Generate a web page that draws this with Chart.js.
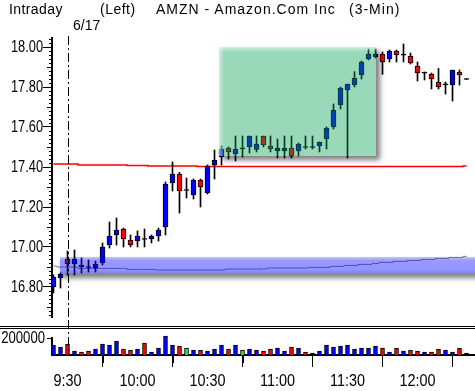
<!DOCTYPE html>
<html>
<head>
<meta charset="utf-8">
<script src="https://cdn.jsdelivr.net/npm/chart.js@4.4.0/dist/chart.umd.min.js"></script>
<style>
    body { margin: 0; background: #fff; }
    #wrap { position: relative; width: 475px; height: 391px; overflow: hidden; font-family: "Liberation Sans", Arial, sans-serif; }
    .txt { position: absolute; font-size: 14px; line-height: 14px; color: #000; white-space: pre; }
    canvas { position: absolute; left: 0; }
</style>
</head>
<body>
<div id="wrap">
    <canvas id="chart-price" width="475" height="320" style="top:0"></canvas>
    <canvas id="chart-volume" width="475" height="71" style="top:320px"></canvas>
    <div class="txt" style="left:9px; top:2px; letter-spacing:0.4px">Intraday</div>
    <div class="txt" style="left:100px; top:2px; letter-spacing:0.5px">(Left)</div>
    <div class="txt" style="left:156px; top:2px; letter-spacing:1px">AMZN - Amazon.Com Inc</div>
    <div class="txt" style="left:349px; top:2px; letter-spacing:1px">(3-Min)</div>
    <div class="txt" style="left:73px; top:18px">6/17</div>
</div>
<script>
// 3-minute bars, 9:24 .. 12:21
const openP  = [16.80, 16.845, 16.94, 16.915, 16.91, 16.90, 16.895, 16.92, 17.01, 17.06,
                17.09, 17.035, 17.03, 17.04, 17.04, 17.055, 17.10, 17.32, 17.365, 17.285,
                17.26, 17.335, 17.27, 17.41, 17.45, 17.495, 17.465, 17.493, 17.50, 17.488,
                17.555, 17.505, 17.48, 17.48, 17.495, 17.48, 17.50, 17.50, 17.505, 17.54,
                17.60, 17.71, 17.785, 17.81, 17.86, 17.94, 17.95, 17.965, 17.94, 17.98,
                17.962, 17.955, 17.905, 17.872, 17.865, 17.825, 17.813, 17.81, 17.875, 17.84];
const highP  = [16.86, 16.87, 16.98, 16.985, 16.945, 16.935, 16.93, 17.02, 17.125, 17.145,
                17.095, 17.06, 17.08, 17.09, 17.06, 17.095, 17.325, 17.425, 17.373, 17.345,
                17.34, 17.34, 17.41, 17.485, 17.505, 17.50, 17.555, 17.555, 17.555, 17.555,
                17.555, 17.555, 17.54, 17.555, 17.555, 17.52, 17.555, 17.555, 17.525, 17.60,
                17.715, 17.80, 17.815, 17.877, 17.93, 17.99, 17.99, 17.975, 17.985, 17.985,
                18.015, 17.97, 17.925, 17.875, 17.87, 17.893, 17.825, 17.885, 17.885, 17.842];
const lowP   = [16.77, 16.795, 16.86, 16.86, 16.87, 16.875, 16.875, 16.91, 16.995, 17.01,
                17.00, 17.00, 17.00, 17.00, 17.02, 17.03, 17.06, 17.28, 17.17, 17.245,
                17.24, 17.20, 17.265, 17.34, 17.41, 17.44, 17.43, 17.45, 17.47, 17.475,
                17.50, 17.475, 17.445, 17.445, 17.445, 17.455, 17.49, 17.49, 17.475, 17.49,
                17.59, 17.69, 17.445, 17.80, 17.84, 17.935, 17.945, 17.863, 17.925, 17.925,
                17.925, 17.915, 17.83, 17.835, 17.79, 17.79, 17.765, 17.73, 17.81, 17.838];
const closeP = [16.85, 16.865, 16.915, 16.94, 16.90, 16.90, 16.915, 17.00, 17.055, 17.085,
                17.04, 17.01, 17.055, 17.04, 17.055, 17.085, 17.315, 17.365, 17.28, 17.285,
                17.335, 17.30, 17.405, 17.435, 17.49, 17.475, 17.49, 17.493, 17.555, 17.515,
                17.51, 17.49, 17.495, 17.495, 17.455, 17.515, 17.50, 17.50, 17.525, 17.595,
                17.685, 17.795, 17.815, 17.845, 17.925, 17.965, 17.965, 17.925, 17.98, 17.96,
                17.962, 17.92, 17.87, 17.872, 17.84, 17.80, 17.813, 17.885, 17.86, 17.84];
const volume = [118000, 94000, 129000, 47000, 35000, 47000, 70000, 129000, 118000, 165000,
                70000, 59000, 70000, 141000, 35000, 82000, 224000, 118000, 106000, 82000,
                59000, 59000, 47000, 70000, 118000, 70000, 118000, 59000, 70000, 59000,
                47000, 70000, 82000, 47000, 94000, 82000, 35000, 24000, 47000, 118000,
                94000, 106000, 118000, 70000, 82000, 82000, 106000, 82000, 35000, 82000,
                47000, 59000, 47000, 35000, 35000, 70000, 59000, 35000, 82000, 24000];
// u = up, d = down, e = unchanged, n = none
const volDir = ['u','u','d','u','d','d','u','u','u','u','d','d','u','d','u','u','u','u','d','e',
                'u','d','u','u','u','d','u','e','u','u','d','d','u','u','d','u','d','n','u','u',
                'u','u','u','u','u','u','u','d','u','d','u','d','d','u','d','d','u','u','d','n'];
const refLine = [17.415, 17.415, 17.415, 17.415, 17.41, 17.41, 17.41, 17.41, 17.41, 17.41,
                 17.41, 17.407, 17.407, 17.407, 17.405, 17.405, 17.405, 17.405, 17.405, 17.405,
                 17.405, 17.402, 17.402, 17.402, 17.402, 17.402, 17.402, 17.402, 17.402, 17.402,
                 17.402, 17.402, 17.402, 17.402, 17.402, 17.402, 17.402, 17.402, 17.402, 17.402,
                 17.402, 17.402, 17.402, 17.402, 17.402, 17.402, 17.402, 17.402, 17.402, 17.402,
                 17.402, 17.402, 17.402, 17.402, 17.402, 17.402, 17.402, 17.402, 17.402, 17.405];
const avgLine = [16.905, 16.90, 16.90, 16.90, 16.893, 16.893, 16.893, 16.893, 16.893, 16.893,
                 16.893, 16.888, 16.888, 16.888, 16.888, 16.885, 16.885, 16.885, 16.885, 16.885,
                 16.885, 16.885, 16.885, 16.885, 16.885, 16.89, 16.89, 16.89, 16.89, 16.89,
                 16.89, 16.895, 16.895, 16.895, 16.895, 16.895, 16.895, 16.898, 16.898, 16.898,
                 16.903, 16.903, 16.908, 16.908, 16.913, 16.913, 16.918, 16.923, 16.923, 16.928,
                 16.928, 16.933, 16.933, 16.938, 16.938, 16.943, 16.943, 16.948, 16.948, 16.953];

const tickIdx = [2, 12, 22, 32, 42, 52];
const tickText = ['9:30', '10:00', '10:30', '11:00', '11:30', '12:00'];
const minorIdx = [7, 17, 27, 37, 47, 57];
const priceTicks = [16.8, 17.0, 17.2, 17.4, 17.6, 17.8, 18.0];
const volTicks = [200000];
const sessionIdx = 2;
const boxIdx = [23.64, 46.1];
const boxPrice = [17.455, 18.0];
const bandIdx = 0.9;
const bandPrice = [16.866, 16.952];

const LABEL_FONT = '16px "Liberation Sans", Arial, sans-serif';
const X_MIN = -0.2143, X_MAX = 60.2143;

const idx = openP.map((v, i) => i);
const bodyColor = idx.map(i => closeP[i] > openP[i] ? '#0000ff' : (closeP[i] < openP[i] ? '#ff0000' : '#000000'));
const volColor = volDir.map(d => ({ u: '#0000ff', d: '#ff0000', e: '#33dd33', n: '#000000' })[d]);

// narrow axis text: the original uses a condensed face
function drawLabel(ctx, text, px, py, align, sx) {
    ctx.save();
    ctx.translate(px, py);
    ctx.scale(sx, 1);
    ctx.font = LABEL_FONT;
    ctx.fillStyle = '#000';
    ctx.textAlign = align;
    ctx.textBaseline = 'middle';
    ctx.fillText(text, 0, 0);
    ctx.restore();
}

function xScale(display, height) {
    return {
        type: 'linear', min: X_MIN, max: X_MAX, offset: false, display: display,
        grid: { drawOnChartArea: false, tickLength: 12, color: '#000' },
        border: { display: true, color: '#000', width: 2 },
        afterBuildTicks: s => { s.ticks = tickIdx.map(v => ({ value: v })); },
        afterFit: s => { s.height = height; },
        ticks: { display: false }
    };
}

function yScale(min, max, ticks, tickLen) {
    return {
        type: 'linear', min: min, max: max,
        grid: { drawOnChartArea: false, tickLength: tickLen, color: '#000' },
        border: { display: true, color: '#000', width: 2 },
        afterBuildTicks: s => { s.ticks = ticks.map(v => ({ value: v })); },
        afterFit: s => { s.width = 52; },
        ticks: { display: false }
    };
}

function dashedSession(chart, top, bottom) {
    const { ctx, scales: { x } } = chart;
    const px = Math.round(x.getPixelForValue(sessionIdx)) + 0.5;
    ctx.save();
    ctx.strokeStyle = '#000';
    ctx.lineWidth = 1;
    ctx.setLineDash([9, 3, 2, 3]);
    ctx.beginPath();
    ctx.moveTo(px, top);
    ctx.lineTo(px, bottom);
    ctx.stroke();
    ctx.restore();
}

function shadowBox(ctx, x0, y0, w, h, dx, dy) {
    ctx.save();
    ctx.beginPath();
    ctx.rect(0, 0, ctx.canvas.width, ctx.canvas.height);
    ctx.rect(x0, y0, w, h);
    ctx.clip('evenodd');
    ctx.shadowColor = 'rgba(0,0,0,0.5)';
    ctx.shadowBlur = 5;
    ctx.shadowOffsetX = dx;
    ctx.shadowOffsetY = dy;
    ctx.fillStyle = '#000';
    ctx.fillRect(x0, y0, w, h);
    ctx.restore();
}

const priceOverlay = {
    id: 'priceOverlay',
    afterDatasetsDraw(chart) {
        const { ctx, chartArea, scales: { x, y } } = chart;

        // highlighted box
        const bx0 = Math.round(x.getPixelForValue(boxIdx[0]));
        const bx1 = Math.round(x.getPixelForValue(boxIdx[1]));
        const by0 = Math.round(y.getPixelForValue(boxPrice[1]));
        const by1 = Math.round(y.getPixelForValue(boxPrice[0]));
        shadowBox(ctx, bx0, by0, bx1 - bx0, by1 - by0, 4, 4);
        ctx.save();
        ctx.fillStyle = 'rgba(0,160,80,0.4)';
        ctx.fillRect(bx0, by0, bx1 - bx0, by1 - by0);
        let g = ctx.createLinearGradient(bx0, 0, bx0 + 5, 0);
        g.addColorStop(0, 'rgba(255,255,255,0.55)');
        g.addColorStop(1, 'rgba(255,255,255,0)');
        ctx.fillStyle = g;
        ctx.fillRect(bx0, by0, 5, by1 - by0);
        g = ctx.createLinearGradient(0, by0, 0, by0 + 5);
        g.addColorStop(0, 'rgba(255,255,255,0.55)');
        g.addColorStop(1, 'rgba(255,255,255,0)');
        ctx.fillStyle = g;
        ctx.fillRect(bx0, by0, bx1 - bx0, 5);
        ctx.restore();

        // band
        const nx0 = Math.round(x.getPixelForValue(bandIdx));
        const nx1 = chartArea.right + 10;
        const ny0 = Math.round(y.getPixelForValue(bandPrice[1]));
        const ny1 = Math.round(y.getPixelForValue(bandPrice[0]));
        shadowBox(ctx, nx0, ny0, nx1 - nx0, ny1 - ny0, 2, 4);
        ctx.save();
        g = ctx.createLinearGradient(0, ny0, 0, ny1);
        g.addColorStop(0, 'rgba(0,0,255,0.22)');
        g.addColorStop(0.2, 'rgba(0,0,255,0.4)');
        g.addColorStop(0.75, 'rgba(0,0,255,0.42)');
        g.addColorStop(1, 'rgba(0,0,190,0.5)');
        ctx.fillStyle = g;
        ctx.fillRect(nx0, ny0, nx1 - nx0, ny1 - ny0);
        ctx.restore();
    },
    afterDraw(chart) {
        const { ctx, chartArea, scales: { y } } = chart;
        dashedSession(chart, 36, chartArea.bottom + 3);
        // minor price ticks
        ctx.save();
        ctx.strokeStyle = '#000';
        ctx.lineWidth = 1;
        for (let k = 833; k <= 902; k++) {
            if (k % 10 === 0) continue;
            const py = Math.round(y.getPixelForValue(k / 50)) + 0.5;
            if (py < chartArea.top || py > chartArea.bottom) continue;
            const len = k % 5 === 0 ? 5 : 3;
            ctx.beginPath();
            ctx.moveTo(chartArea.left - len, py);
            ctx.lineTo(chartArea.left, py);
            ctx.stroke();
        }
        ctx.restore();
        priceTicks.forEach(v => drawLabel(ctx, v.toFixed(2), chartArea.left - 9, y.getPixelForValue(v) + 1, 'right', 0.8));
    }
};

const volumeOverlay = {
    id: 'volumeOverlay',
    beforeDraw(chart) {
        const { ctx } = chart;
        ctx.save();
        ctx.strokeStyle = '#000';
        ctx.lineWidth = 1;
        [6.5, 8.5].forEach(py => {
            ctx.beginPath();
            ctx.moveTo(0, py);
            ctx.lineTo(chart.width, py);
            ctx.stroke();
        });
        ctx.restore();
    },
    afterDraw(chart) {
        const { ctx, chartArea, scales: { x, y } } = chart;
        dashedSession(chart, 0, chartArea.bottom);
        ctx.save();
        ctx.strokeStyle = '#000';
        ctx.lineWidth = 1;
        minorIdx.forEach(v => {
            const px = Math.round(x.getPixelForValue(v)) + 0.5;
            ctx.beginPath();
            ctx.moveTo(px, chartArea.bottom);
            ctx.lineTo(px, chartArea.bottom + 8);
            ctx.stroke();
        });
        ctx.restore();
        volTicks.forEach(v => drawLabel(ctx, String(v), chartArea.left - 7, y.getPixelForValue(v) + 1, 'right', 0.82));
        tickIdx.forEach((v, k) => drawLabel(ctx, tickText[k], x.getPixelForValue(v), chartArea.bottom + 27, 'center', 0.9));
    }
};

const priceChart = new Chart(document.getElementById('chart-price'), {
    data: {
        datasets: [
            {
                type: 'bar', label: 'body', grouped: false, barThickness: 5,
                data: idx.map(i => ({ x: i, y: closeP[i] === openP[i] ? [openP[i] - 0.0025, openP[i] + 0.0025] : [openP[i], closeP[i]] })),
                backgroundColor: bodyColor, borderColor: '#000', borderWidth: 1, borderSkipped: false
            },
            {
                type: 'bar', label: 'wick', grouped: false, barThickness: 1,
                data: idx.map(i => ({ x: i, y: [lowP[i], highP[i]] })),
                backgroundColor: '#000', borderWidth: 0
            },
            {
                type: 'line', label: 'avg', data: idx.map(i => ({ x: i, y: avgLine[i] })),
                borderColor: '#808080', borderWidth: 1, pointRadius: 0, stepped: 'middle'
            },
            {
                type: 'line', label: 'ref', data: idx.map(i => ({ x: i, y: refLine[i] })),
                borderColor: '#ff0000', borderWidth: 1.5, pointRadius: 0, stepped: 'middle'
            }
        ]
    },
    options: {
        responsive: false,
        animation: false,
        layout: { padding: { top: 38, bottom: 3, left: 0, right: 0 } },
        plugins: { legend: { display: false }, tooltip: { enabled: false } },
        scales: {
            x: xScale(false, 0),
            y: yScale(16.65, 18.045, priceTicks, 9)
        }
    },
    plugins: [priceOverlay]
});

const volumeChart = new Chart(document.getElementById('chart-volume'), {
    type: 'bar',
    data: {
        datasets: [{
            label: 'volume', grouped: false, barThickness: 4, clip: false,
            data: idx.map(i => ({ x: i, y: volume[i] })),
            backgroundColor: volColor, borderColor: '#000', borderWidth: 1, borderSkipped: 'start'
        }]
    },
    options: {
        responsive: false,
        animation: false,
        layout: { padding: { top: 18, bottom: 0, left: 0, right: 0 } },
        plugins: { legend: { display: false }, tooltip: { enabled: false } },
        scales: {
            x: xScale(true, 36),
            y: yScale(0, 200000, volTicks, 5)
        }
    },
    plugins: [volumeOverlay]
});
</script>
</body>
</html>
